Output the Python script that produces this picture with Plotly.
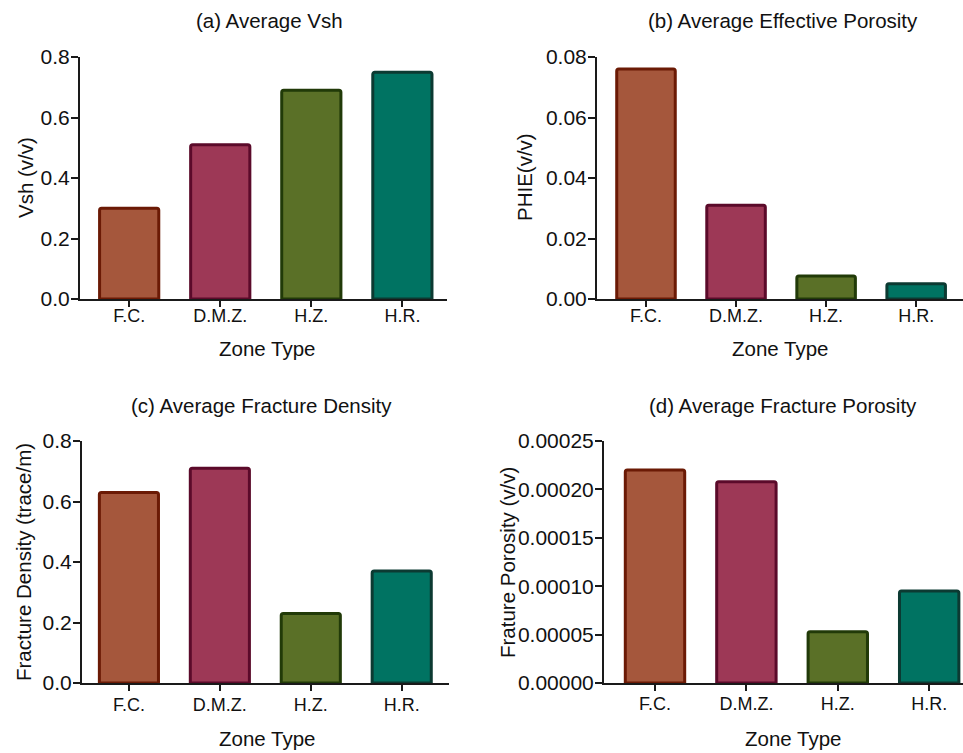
import plotly.graph_objects as go

# Zone categories shared by all four panels
zones = ["F.C.", "D.M.Z.", "H.Z.", "H.R."]

# Average values per zone
vsh = [0.30, 0.51, 0.69, 0.75]
phie = [0.076, 0.031, 0.0076, 0.005]
frac_density = [0.63, 0.71, 0.23, 0.37]
frac_porosity = [0.00022, 0.000208, 0.000053, 0.000095]

# Panel titles and axis titles
titles = ["(a) Average Vsh", "(b) Average Effective Porosity",
          "(c) Average Fracture Density", "(d) Average Fracture Porosity"]
ytitles = ["Vsh (v/v)", "PHIE(v/v)", "Fracture Density (trace/m)", "Frature Porosity (v/v)"]
xtitle = "Zone Type"

fill_colors = ["#A5573C", "#9D3856", "#5A7027", "#007362"]
edge_colors = ["#6B1A05", "#5B0A2A", "#213A08", "#0C3A32"]

W, H = 963, 753
FONT = "Liberation Sans, Arial, sans-serif"
AX = "#1a1a1a"

# Per-panel geometry in pixels
panels = [
    dict(vals=vsh, xd=(80, 447), yd=(57, 299), yr=[0, 0.8], dt=0.2, fmt=".1f",
         xr=[-0.54, 3.49], title_xy=(269, 21), ytitle_xy=(25, 178),
         xtitle_xy=(267, 348), xlab_off=-7),
    dict(vals=phie, xd=(597, 963), yd=(57, 299), yr=[0, 0.08], dt=0.02, fmt=".2f",
         xr=[-0.544, 3.52], title_xy=(783, 21), ytitle_xy=(524, 177),
         xtitle_xy=(780, 348), xlab_off=-7),
    dict(vals=frac_density, xd=(82, 449), yd=(441, 683), yr=[0, 0.8], dt=0.2, fmt=".1f",
         xr=[-0.516, 3.52], title_xy=(261, 405), ytitle_xy=(23, 562),
         xtitle_xy=(267, 738), xlab_off=-2),
    dict(vals=frac_porosity, xd=(604, 963), yd=(441, 683), yr=[0, 0.00025], dt=0.00005,
         fmt=".5f", xr=[-0.558, 3.37], title_xy=(783, 405), ytitle_xy=(507, 562),
         xtitle_xy=(793, 738), xlab_off=-3),
]

fig = go.Figure()
layout = dict(
    width=W, height=H,
    margin=dict(l=0, r=0, t=0, b=0, autoexpand=False),
    paper_bgcolor="white", plot_bgcolor="white",
    showlegend=False,
    font=dict(family=FONT, color="#111111"),
    annotations=[],
)


def label(text, px, py, size, angle=0):
    return dict(text=text, x=px / W, y=1 - py / H, xref="paper", yref="paper",
                xanchor="center", yanchor="middle", textangle=angle,
                showarrow=False, font=dict(size=size))


for i, p in enumerate(panels):
    n = "" if i == 0 else str(i + 1)
    xa, ya = "x" + n, "y" + n
    fig.add_trace(go.Bar(
        x=zones, y=p["vals"], xaxis=xa, yaxis=ya,
        marker=dict(color=fill_colors,
                    line=dict(color=edge_colors, width=3),
                    cornerradius=2),
        width=0.65,
    ))
    x0, x1 = p["xd"]
    ytop, ybot = p["yd"]
    layout["xaxis" + n] = dict(
        domain=[x0 / W, x1 / W], anchor=ya, range=p["xr"],
        showline=True, linecolor=AX, linewidth=2,
        ticks="outside", ticklen=6, tickwidth=2, tickcolor=AX,
        showgrid=False, zeroline=False, automargin=False,
        tickfont=dict(size=18), ticklabelstandoff=p["xlab_off"],
        fixedrange=True,
    )
    layout["yaxis" + n] = dict(
        domain=[1 - ybot / H, 1 - ytop / H], anchor=xa, range=p["yr"],
        showline=True, linecolor=AX, linewidth=2,
        ticks="outside", ticklen=7, tickwidth=2, tickcolor=AX,
        tick0=0, dtick=p["dt"], tickformat=p["fmt"],
        showgrid=False, zeroline=False, automargin=False,
        tickfont=dict(size=21), ticklabelstandoff=-3,
        fixedrange=True,
    )
    layout["annotations"].append(label(titles[i], *p["title_xy"], 20.5))
    layout["annotations"].append(label(ytitles[i], *p["ytitle_xy"], 20.5, -90))
    layout["annotations"].append(label(xtitle, *p["xtitle_xy"], 20.5))

fig.update_layout(**layout)
fig.write_html("out.html")
